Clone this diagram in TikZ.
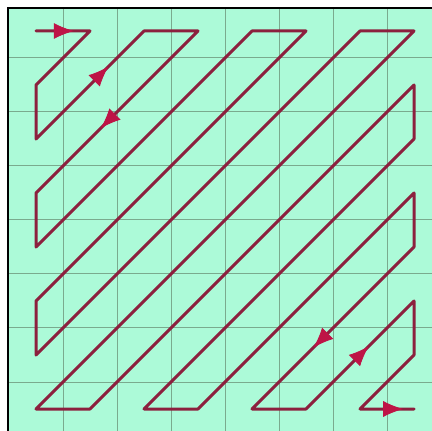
\documentclass[tikz,border=0pt]{standalone}
\usetikzlibrary{arrows.meta,decorations.markings}

\definecolor{mint}{RGB}{172,250,216}
\definecolor{gridgreen}{RGB}{122,170,142}
\definecolor{zigred}{RGB}{140,32,62}
\definecolor{tipred}{RGB}{190,20,70}

\begin{document}
\begin{tikzpicture}[
    x=0.5pt,
    y=-0.5pt,
    gridline/.style={draw=gridgreen, line width=0.5pt},
    zig/.style={draw=zigred, line width=1.5pt, line join=round, line cap=round},
    flow/.style={
        postaction={decorate},
        decoration={markings,
            mark=at position #1 with {\arrow{Latex[length=10pt,width=8pt,color=tipred]}}}
    }
]

\useasboundingbox (0,0) rectangle (432,431);

% ============================================================
% BACKGROUND AND GRID
% ============================================================
\fill[mint] (8,8) rectangle (432,431);
\foreach \k in {0,...,6} {
    \draw[gridline] (63+54*\k,8) -- (63+54*\k,431);
    \draw[gridline] (8,58+54*\k) -- (432,58+54*\k);
}
\draw[black, line width=0.8pt] (8,431) -- (8,8) -- (432,8);

% ============================================================
% CELL CENTRES
% ============================================================
\foreach \i in {0,...,7} {
    \foreach \j in {0,...,7} {
        \coordinate (c-\i-\j) at (36+54*\i, 31+54*\j);
    }
}

% ============================================================
% ZIGZAG SCAN
% ============================================================
\draw[zig] (c-0-0) -- (c-1-0) -- (c-0-1) -- (c-0-2) -- (c-2-0) -- (c-3-0)
    -- (c-0-3) -- (c-0-4) -- (c-4-0) -- (c-5-0) -- (c-0-5) -- (c-0-6)
    -- (c-6-0) -- (c-7-0) -- (c-0-7) -- (c-1-7) -- (c-7-1) -- (c-7-2)
    -- (c-2-7) -- (c-3-7) -- (c-7-3) -- (c-7-4) -- (c-4-7) -- (c-5-7)
    -- (c-7-5) -- (c-7-6) -- (c-6-7) -- (c-7-7);

% direction marks
\path[flow=0.70] (c-0-0) -- (c-1-0);
\path[flow=0.67] (c-0-2) -- (c-2-0);
\path[flow=0.60] (c-3-0) -- (c-0-3);
\path[flow=0.62] (c-7-4) -- (c-4-7);
\path[flow=0.58] (c-5-7) -- (c-7-5);
\path[flow=0.80] (c-6-7) -- (c-7-7);

\end{tikzpicture}
\end{document}
